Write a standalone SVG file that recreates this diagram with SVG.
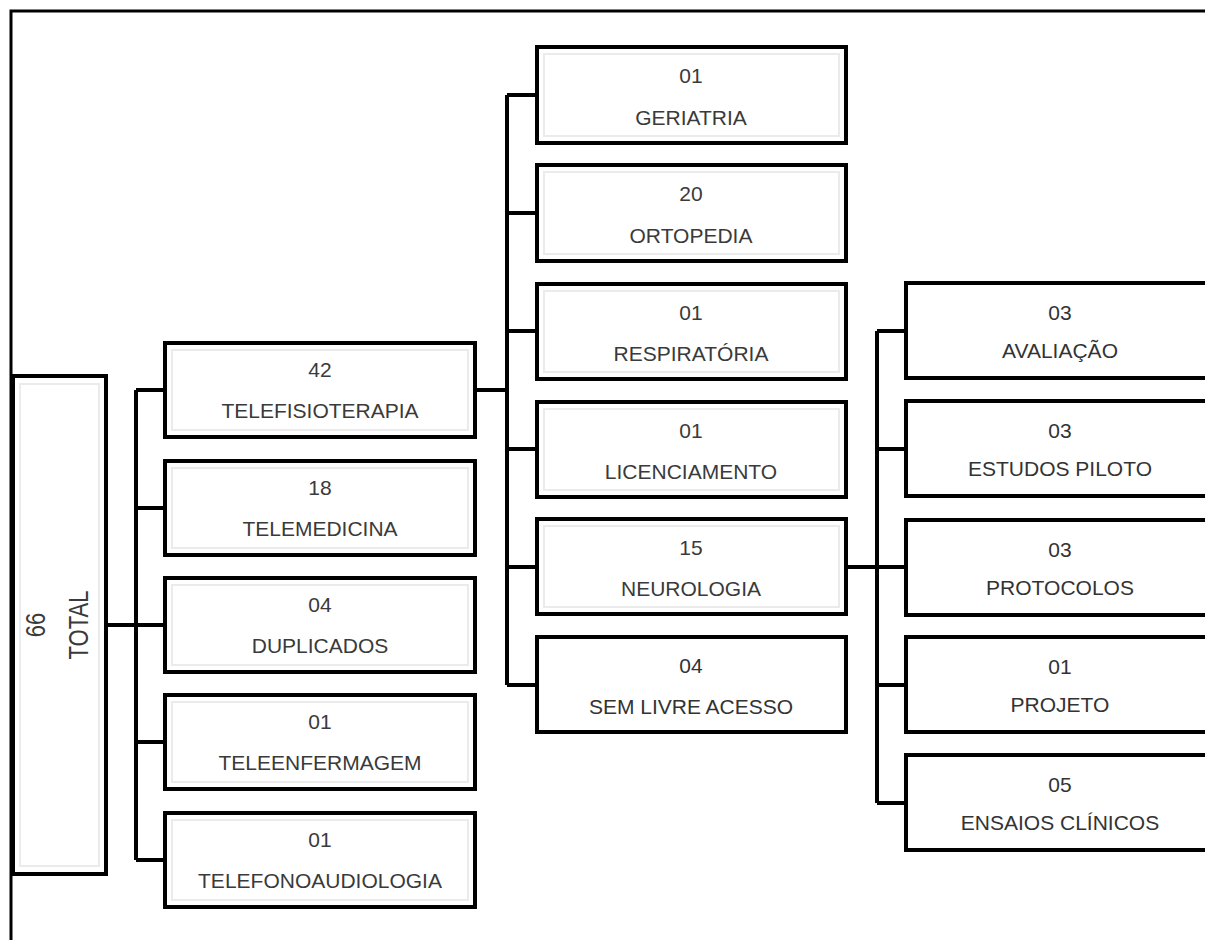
<svg xmlns="http://www.w3.org/2000/svg" width="1205" height="940" viewBox="0 0 1205 940">
<style>
.box{fill:#fff;stroke:#000;stroke-width:4}
.inner{fill:none;stroke:#ebebeb;stroke-width:2}
.conn{fill:none;stroke:#000;stroke-width:4;stroke-linejoin:miter}
.t{font-family:"Liberation Sans",Arial,sans-serif;font-size:21px;fill:#333;text-anchor:middle}
.tb{font-family:"Liberation Sans",Arial,sans-serif;font-size:21px;fill:#3a3a3a;text-anchor:middle}
</style>
<rect width="1205" height="940" fill="#fff"/>
<path d="M11,940 V11 H1205" fill="none" stroke="#000" stroke-width="3"/>
<g id="connectors">
<path class="conn" d="M106,625 H136 M136,390 V860 M136,390 H165 M136,508 H165 M136,625 H165 M136,742 H165 M136,860 H165"/>
<path class="conn" d="M475,390 H507 M507,95 V685 M507,95 H537 M507,213 H537 M507,331 H537 M507,449 H537 M507,567 H537 M507,685 H537"/>
<path class="conn" d="M846,567 H877 M877,331 V803 M877,331 H906 M877,449 H906 M877,567 H906 M877,685 H906 M877,803 H906"/>
</g>
<g id="total">
<rect class="box" x="13" y="376" width="93" height="498"/>
<rect class="inner" x="20" y="384" width="79" height="482"/>
<g transform="translate(59,625) rotate(-90) scale(1,1.25)">
<text class="tb" x="0" y="-11" style="font-size:22px">66</text>
<text class="tb" x="0" y="23" style="font-size:22px">TOTAL</text>
</g>
</g>
<g id="telefisioterapia">
<rect class="box" x="165" y="343" width="310" height="94"/><rect class="inner" x="172" y="350" width="296" height="80"/>
<text class="tb" x="320" y="377">42</text><text class="tb" x="320" y="418">TELEFISIOTERAPIA</text>
</g>
<g id="telemedicina">
<rect class="box" x="165" y="461" width="310" height="94"/><rect class="inner" x="172" y="468" width="296" height="80"/>
<text class="tb" x="320" y="495">18</text><text class="tb" x="320" y="536">TELEMEDICINA</text>
</g>
<g id="duplicados">
<rect class="box" x="165" y="578" width="310" height="94"/><rect class="inner" x="172" y="585" width="296" height="80"/>
<text class="tb" x="320" y="612">04</text><text class="tb" x="320" y="653">DUPLICADOS</text>
</g>
<g id="teleenfermagem">
<rect class="box" x="165" y="695" width="310" height="94"/><rect class="inner" x="172" y="702" width="296" height="80"/>
<text class="tb" x="320" y="729">01</text><text class="tb" x="320" y="770">TELEENFERMAGEM</text>
</g>
<g id="telefonoaudiologia">
<rect class="box" x="165" y="813" width="310" height="94"/><rect class="inner" x="172" y="820" width="296" height="80"/>
<text class="tb" x="320" y="847">01</text><text class="tb" x="320" y="888">TELEFONOAUDIOLOGIA</text>
</g>
<g id="geriatria">
<rect class="box" x="537" y="47" width="309" height="96"/><rect class="inner" x="544" y="54" width="295" height="82"/>
<text class="tb" x="691" y="83">01</text><text class="tb" x="691" y="125">GERIATRIA</text>
</g>
<g id="ortopedia">
<rect class="box" x="537" y="165" width="309" height="96"/><rect class="inner" x="544" y="172" width="295" height="82"/>
<text class="tb" x="691" y="201">20</text><text class="tb" x="691" y="243">ORTOPEDIA</text>
</g>
<g id="respiratoria">
<rect class="box" x="537" y="284" width="309" height="95"/><rect class="inner" x="544" y="291" width="295" height="81"/>
<text class="tb" x="691" y="320">01</text><text class="tb" x="691" y="361">RESPIRATÓRIA</text>
</g>
<g id="licenciamento">
<rect class="box" x="537" y="402" width="309" height="95"/><rect class="inner" x="544" y="409" width="295" height="81"/>
<text class="tb" x="691" y="438">01</text><text class="tb" x="691" y="479">LICENCIAMENTO</text>
</g>
<g id="neurologia">
<rect class="box" x="537" y="519" width="309" height="95"/><rect class="inner" x="544" y="526" width="295" height="81"/>
<text class="tb" x="691" y="555">15</text><text class="tb" x="691" y="596">NEUROLOGIA</text>
</g>
<g id="sem-livre-acesso">
<rect class="box" x="537" y="637" width="309" height="95"/>
<text class="t" x="691" y="673">04</text><text class="t" x="691" y="714">SEM LIVRE ACESSO</text>
</g>
<g id="avaliacao">
<rect class="box" x="906" y="283" width="310" height="95"/>
<text class="t" x="1060" y="320">03</text><text class="t" x="1060" y="358">AVALIAÇÃO</text>
</g>
<g id="estudos-piloto">
<rect class="box" x="906" y="401" width="310" height="95"/>
<text class="t" x="1060" y="438">03</text><text class="t" x="1060" y="476">ESTUDOS PILOTO</text>
</g>
<g id="protocolos">
<rect class="box" x="906" y="520" width="310" height="95"/>
<text class="t" x="1060" y="557">03</text><text class="t" x="1060" y="595">PROTOCOLOS</text>
</g>
<g id="projeto">
<rect class="box" x="906" y="637" width="310" height="95"/>
<text class="t" x="1060" y="674">01</text><text class="t" x="1060" y="712">PROJETO</text>
</g>
<g id="ensaios-clinicos">
<rect class="box" x="906" y="755" width="310" height="95"/>
<text class="t" x="1060" y="792">05</text><text class="t" x="1060" y="830">ENSAIOS CLÍNICOS</text>
</g>
</svg>
